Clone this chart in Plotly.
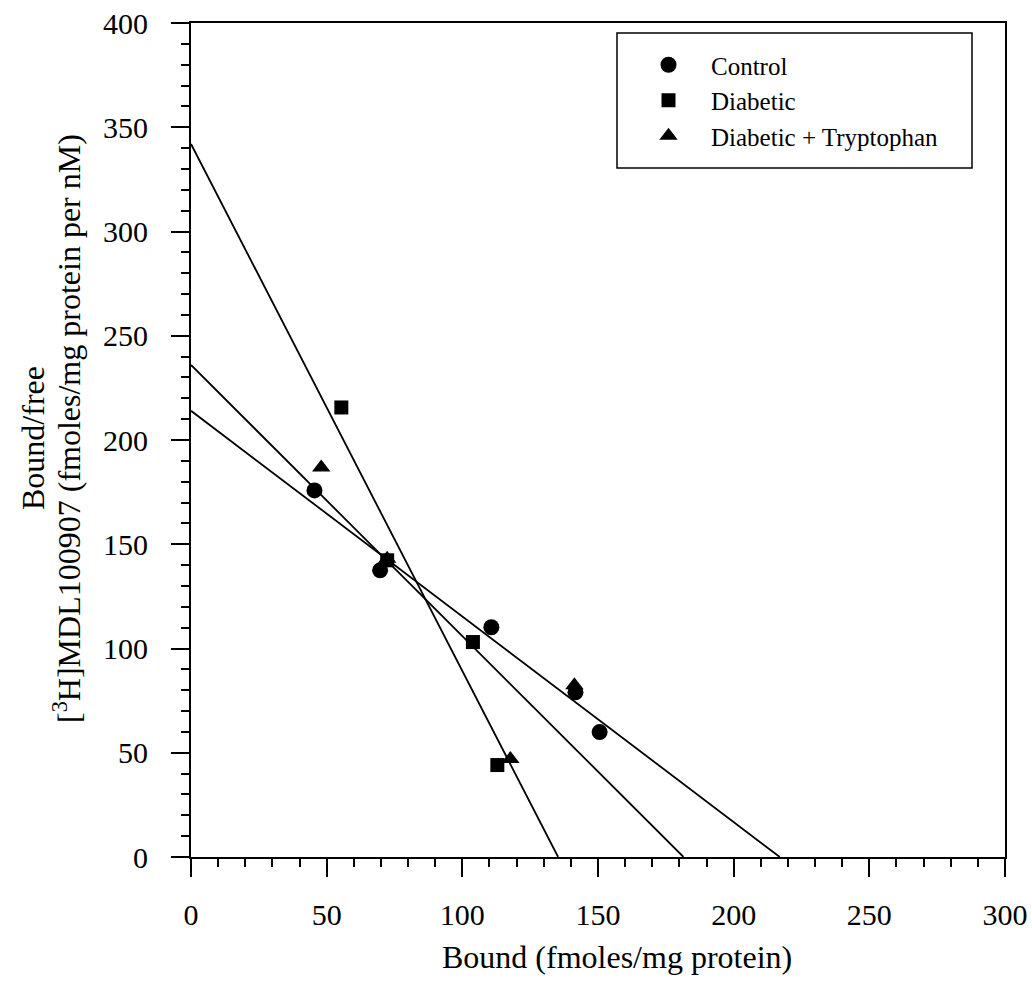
import plotly.graph_objects as go

# ---- data ----
control_x = [45.5, 69.7, 110.7, 141.7, 150.6]
control_y = [175.8, 137.5, 110.2, 79.0, 59.9]

diabetic_x = [55.4, 72.3, 103.9, 112.9]
diabetic_y = [215.6, 142.3, 103.1, 44.1]

trp_x = [48.0, 72.3, 141.3, 117.7]
trp_y = [186.8, 143.0, 82.4, 47.0]

# fitted Scatchard lines: y-intercepts (Bmax/Kd) and x-intercepts (Bmax)
line_y_int = [342, 236, 214]
line_x_int = [135.3, 181.5, 217.0]

x_ticks = [0, 50, 100, 150, 200, 250, 300]
y_ticks = [0, 50, 100, 150, 200, 250, 300, 350, 400]

FONT = "Liberation Serif, Times New Roman, serif"

fig = go.Figure()

for yi, xi in zip(line_y_int, line_x_int):
    fig.add_trace(go.Scatter(x=[0, xi], y=[yi, 0], mode="lines",
                             line=dict(color="black", width=1.8),
                             showlegend=False, hoverinfo="skip"))

fig.add_trace(go.Scatter(x=control_x, y=control_y, mode="markers", name="Control",
                         marker=dict(symbol="circle", size=16, color="black")))
fig.add_trace(go.Scatter(x=diabetic_x, y=diabetic_y, mode="markers", name="Diabetic",
                         marker=dict(symbol="square", size=14, color="black")))
fig.add_trace(go.Scatter(x=trp_x, y=trp_y, mode="markers", name="Diabetic + Tryptophan",
                         marker=dict(symbol="triangle-up", size=16, color="black")))

# body margin removed in the page, so figure pixels == page pixels
W, H = 1032, 991
PL, PR, PT, PB = 191, 1005, 23, 857          # plot area in page pixels
L, T = PL, PT
R, B = W - PR, H - PB
pw, ph = W - L - R, H - T - B

def px_x(p):
    return (p - L) / pw

def px_y(p):
    return (H - B - p) / ph

axis_common = dict(
    showgrid=False, zeroline=False, showline=True, linecolor="black", linewidth=2,
    mirror=True, ticks="outside", ticklen=18, tickwidth=2, tickcolor="black",
    automargin=False, ticklabeloverflow="allow",
    tickfont=dict(family=FONT, size=30, color="black"),
    minor=dict(ticks="outside", ticklen=8, tickwidth=1.5, tickcolor="black", dtick=10),
)

fig.update_layout(
    width=W, height=H,
    margin=dict(l=L, r=R, t=T, b=B, autoexpand=False),
    plot_bgcolor="white", paper_bgcolor="white",
    font=dict(family=FONT, color="black"),
    xaxis=dict(range=[0, 300], tickvals=x_ticks, ticklabelstandoff=12, **axis_common),
    yaxis=dict(range=[0, 400], tickvals=y_ticks, ticklabelstandoff=17, **axis_common),
    legend=dict(x=px_x(626), y=px_y(42), xanchor="left", yanchor="top",
                bgcolor="rgba(0,0,0,0)", borderwidth=0,
                font=dict(family=FONT, size=25, color="black"),
                itemwidth=75, tracegroupgap=0),
    showlegend=True,
)

# legend frame
fig.add_shape(type="rect", xref="paper", yref="paper",
              x0=px_x(617), x1=px_x(972), y0=px_y(168), y1=px_y(33),
              line=dict(color="black", width=1.5))

# axis titles
fig.add_annotation(text="Bound (fmoles/mg protein)", xref="paper", yref="paper",
                   x=px_x(617), y=px_y(957), xanchor="center", yanchor="middle",
                   showarrow=False, font=dict(family=FONT, size=32, color="black"))
fig.add_annotation(text="Bound/free", xref="paper", yref="paper",
                   x=px_x(33), y=px_y(438), xanchor="center", yanchor="middle",
                   textangle=-90, showarrow=False,
                   font=dict(family=FONT, size=32, color="black"))
fig.add_annotation(text="[<sup>3</sup>H]MDL100907 (fmoles/mg protein per nM)",
                   xref="paper", yref="paper",
                   x=px_x(67), y=px_y(429), xanchor="center", yanchor="middle",
                   textangle=-90, showarrow=False,
                   font=dict(family=FONT, size=32, color="black"))

fig.write_html("out.html", config={"displayModeBar": False},
               post_script="document.body.style.margin='0';document.body.style.overflow='hidden';")
